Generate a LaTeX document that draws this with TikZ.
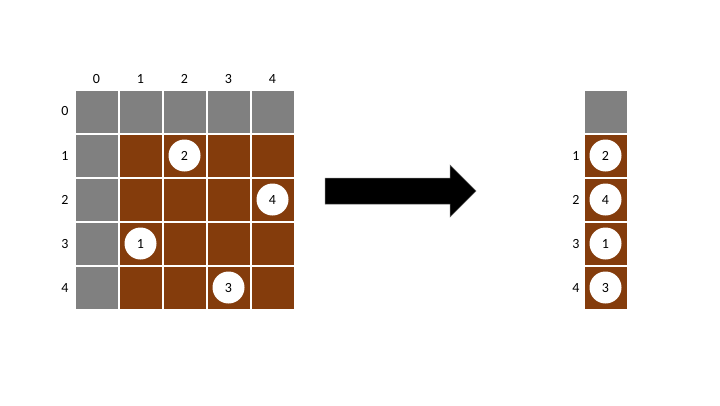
\documentclass[tikz,border=0pt]{standalone}
\usepackage{fontspec}
\setmainfont{Carlito}
\definecolor{cellgray}{HTML}{808080}
\definecolor{cellbrown}{HTML}{843C0C}
\tikzset{
  cell/.style={draw=white, line width=0.75pt, minimum size=43.25pt, inner sep=0pt},
  wall/.style={cell, fill=cellgray},
  floor/.style={cell, fill=cellbrown},
  token/.style={circle, fill=white, minimum size=32pt, inner sep=0pt, font=\fontsize{14}{16}\selectfont},
  idx/.style={font=\fontsize{14}{16}\selectfont}
}
\begin{document}
\begin{tikzpicture}[x=1pt, y=-1pt]
            \useasboundingbox (0, 0) rectangle (720, 405);

            % left grid
            \foreach \c in {0,...,4} {
                \node [wall] (g0\c) at (96.5+44*\c, 111.5) {};
                \node [idx] (col\c) at (96.5+44*\c, 79) {\c};
            }
            \foreach \r in {1,...,4} {
                \node [wall] (g\r0) at (96.5, 111.5+44*\r) {};
                \foreach \c in {1,...,4}
                    \node [floor] (g\r\c) at (96.5+44*\c, 111.5+44*\r) {};
            }
            \foreach \r in {0,...,4}
                \node [idx] (row\r) at (65, 111.5+44*\r) {\r};

            \node [token] (t2) at (g12) {2};
            \node [token] (t4) at (g24) {4};
            \node [token] (t1) at (g31) {1};
            \node [token] (t3) at (g43) {3};

            % arrow
            \draw [fill=black, draw=black!60, line width=0.5pt]
                (325, 178) -- (450, 178) -- (450, 165) -- (476, 191) -- (450, 217) -- (450, 204) -- (325, 204) -- cycle;

            % right column
            \node [wall] (h0) at (605.5, 111.5) {};
            \foreach \r/\v in {1/2, 2/4, 3/1, 4/3} {
                \node [floor] (h\r) at (605.5, 111.5+44*\r) {};
                \node [token] (s\r) at (h\r) {\v};
                \node [idx] (lab\r) at (576, 111.5+44*\r) {\r};
            }
        \end{tikzpicture}
\end{document}
